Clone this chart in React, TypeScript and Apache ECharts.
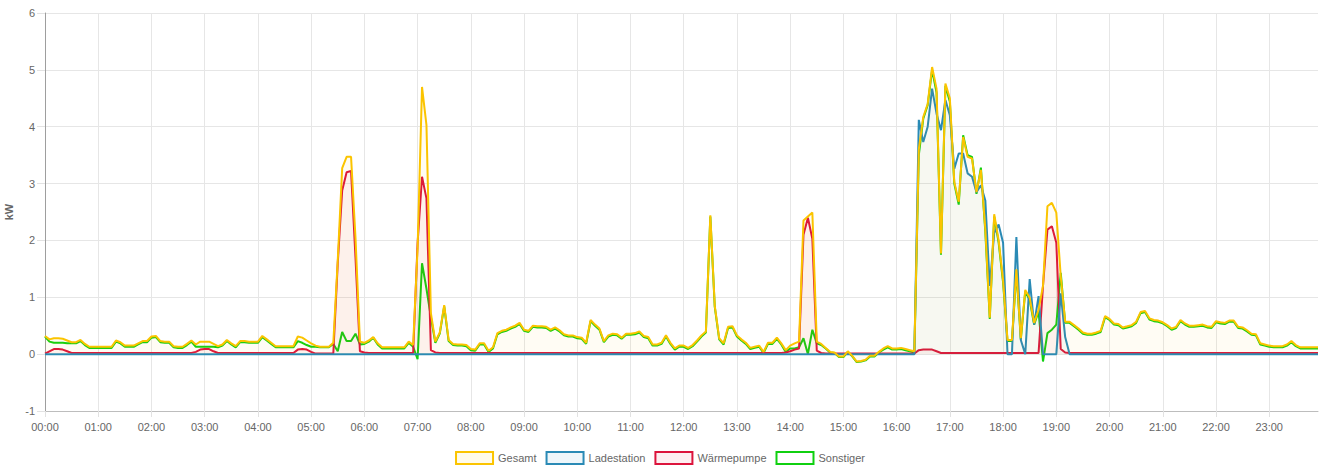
import React, { useEffect, useRef } from "react";
import * as echarts from "echarts";

const hourLabels: string[] = [];
for (let h = 0; h < 24; h++) {
  for (let m = 0; m < 60; m += 5) {
    hourLabels.push(String(h).padStart(2, "0") + ":" + String(m).padStart(2, "0"));
  }
}

const yTickMin = -1;
const yTickMax = 6;

// Gesamt (kW), 5-minute values
const gesamt: number[] = [
  0.32, 0.26, 0.28, 0.28, 0.27, 0.24, 0.21, 0.21, 0.25, 0.18, 0.13, 0.13,
  0.13, 0.13, 0.13, 0.13, 0.24, 0.21, 0.15, 0.15, 0.15, 0.19, 0.23, 0.23,
  0.31, 0.32, 0.23, 0.22, 0.22, 0.14, 0.13, 0.13, 0.18, 0.24, 0.17, 0.22,
  0.22, 0.22, 0.18, 0.14, 0.17, 0.25, 0.19, 0.14, 0.23, 0.23, 0.22, 0.22,
  0.22, 0.32, 0.26, 0.2, 0.14, 0.14, 0.14, 0.14, 0.14, 0.31, 0.29, 0.24,
  0.19, 0.15, 0.13, 0.13, 0.13, 0.2, 1.65, 3.27, 3.47, 3.47, 2.05, 0.22,
  0.2, 0.24, 0.3, 0.19, 0.12, 0.12, 0.12, 0.12, 0.12, 0.12, 0.22, 0.16,
  1.86, 4.7, 4.03, 0.72, 0.22, 0.38, 0.86, 0.25, 0.18, 0.17, 0.17, 0.16,
  0.09, 0.08, 0.19, 0.19, 0.06, 0.12, 0.37, 0.41, 0.43, 0.47, 0.5, 0.55,
  0.43, 0.41, 0.5, 0.49, 0.49, 0.48, 0.43, 0.47, 0.42, 0.35, 0.33, 0.33,
  0.3, 0.29, 0.2, 0.6, 0.52, 0.45, 0.23, 0.33, 0.36, 0.35, 0.29, 0.36,
  0.36, 0.37, 0.4, 0.32, 0.3, 0.17, 0.17, 0.2, 0.33, 0.2, 0.1, 0.15,
  0.15, 0.11, 0.16, 0.24, 0.33, 0.4, 2.44, 0.85, 0.28, 0.19, 0.48, 0.49,
  0.33, 0.26, 0.2, 0.11, 0.13, 0.15, 0.04, 0.2, 0.2, 0.29, 0.19, 0.07,
  0.15, 0.19, 0.22, 2.35, 2.42, 2.49, 0.22, 0.18, 0.11, 0.04, 0.03, -0.04,
  -0.04, 0.05, -0.03, -0.13, -0.12, -0.1, -0.03, -0.03, 0.04, 0.1, 0.14, 0.1,
  0.1, 0.11, 0.09, 0.07, 0.05, 3.6, 4.17, 4.4, 5.05, 4.67, 1.77, 4.76,
  4.5, 3.03, 2.68, 3.82, 3.47, 3.44, 2.85, 3.24, 2.2, 0.64, 2.46, 2.0,
  1.3, 0.25, 0.25, 1.49, 0.28, 1.13, 0.99, 0.55, 0.78, 1.2, 2.6, 2.66,
  2.49, 1.37, 0.57, 0.57, 0.51, 0.45, 0.38, 0.36, 0.36, 0.38, 0.41, 0.67,
  0.62, 0.54, 0.53, 0.47, 0.49, 0.51, 0.57, 0.74, 0.76, 0.63, 0.6, 0.59,
  0.56, 0.51, 0.45, 0.48, 0.6, 0.54, 0.5, 0.5, 0.51, 0.52, 0.49, 0.48,
  0.58, 0.56, 0.55, 0.59, 0.59, 0.48, 0.47, 0.42, 0.36, 0.35, 0.19, 0.17,
  0.15, 0.14, 0.14, 0.14, 0.17, 0.23, 0.16, 0.12, 0.12, 0.12, 0.12, 0.12,
];

// Ladestation (kW)
const ladestation: number[] = [
  0, 0, 0, 0, 0, 0, 0, 0, 0, 0, 0, 0,
  0, 0, 0, 0, 0, 0, 0, 0, 0, 0, 0, 0,
  0, 0, 0, 0, 0, 0, 0, 0, 0, 0, 0, 0,
  0, 0, 0, 0, 0, 0, 0, 0, 0, 0, 0, 0,
  0, 0, 0, 0, 0, 0, 0, 0, 0, 0, 0, 0,
  0, 0, 0, 0, 0, 0, 0, 0, 0, 0, 0, 0,
  0, 0, 0, 0, 0, 0, 0, 0, 0, 0, 0, 0,
  0, 0, 0, 0, 0, 0, 0, 0, 0, 0, 0, 0,
  0, 0, 0, 0, 0, 0, 0, 0, 0, 0, 0, 0,
  0, 0, 0, 0, 0, 0, 0, 0, 0, 0, 0, 0,
  0, 0, 0, 0, 0, 0, 0, 0, 0, 0, 0, 0,
  0, 0, 0, 0, 0, 0, 0, 0, 0, 0, 0, 0,
  0, 0, 0, 0, 0, 0, 0, 0, 0, 0, 0, 0,
  0, 0, 0, 0, 0, 0, 0, 0, 0, 0, 0, 0,
  0, 0, 0, 0, 0, 0, 0, 0, 0, 0, 0, 0,
  0, 0, 0, 0, 0, 0, 0, 0, 0, 0, 0, 0,
  0, 0, 0, 0, 0, 4.12, 3.73, 4.0, 4.67, 4.23, 3.94, 4.47,
  4.2, 3.26, 3.53, 3.53, 3.18, 3.12, 2.85, 2.97, 2.7, 1.2, 2.13, 2.28,
  1.96, 0, 0, 2.06, 0.25, 0, 1.32, 0.52, 1.02, 0, 0, 0,
  0, 1.07, 0.3, 0, 0, 0, 0, 0, 0, 0, 0, 0,
  0, 0, 0, 0, 0, 0, 0, 0, 0, 0, 0, 0,
  0, 0, 0, 0, 0, 0, 0, 0, 0, 0, 0, 0,
  0, 0, 0, 0, 0, 0, 0, 0, 0, 0, 0, 0,
  0, 0, 0, 0, 0, 0, 0, 0, 0, 0, 0, 0,
];

// Wärmepumpe (kW)
const waermepumpe: number[] = [
  0.01, 0.05, 0.09, 0.09, 0.08, 0.05, 0.02, 0.02, 0.02, 0.02, 0.02, 0.02,
  0.02, 0.02, 0.02, 0.02, 0.02, 0.02, 0.02, 0.02, 0.02, 0.02, 0.02, 0.02,
  0.02, 0.02, 0.02, 0.02, 0.02, 0.02, 0.02, 0.02, 0.02, 0.02, 0.04, 0.08,
  0.09, 0.09, 0.05, 0.02, 0.02, 0.02, 0.02, 0.02, 0.02, 0.02, 0.02, 0.02,
  0.02, 0.02, 0.02, 0.02, 0.02, 0.02, 0.02, 0.02, 0.02, 0.08, 0.09, 0.08,
  0.04, 0.01, 0.01, 0.01, 0.01, 0.01, 1.6, 2.88, 3.2, 3.22, 1.7, 0.05,
  0.03, 0.02, 0.02, 0.02, 0.02, 0.02, 0.02, 0.02, 0.02, 0.02, 0.02, 0.02,
  1.95, 3.12, 2.74, 0.07, 0.03, 0.02, 0.02, 0.02, 0.02, 0.02, 0.02, 0.02,
  0.02, 0.02, 0.02, 0.02, 0.02, 0.02, 0.02, 0.02, 0.02, 0.02, 0.02, 0.02,
  0.02, 0.02, 0.02, 0.02, 0.02, 0.02, 0.02, 0.02, 0.02, 0.02, 0.02, 0.02,
  0.02, 0.02, 0.02, 0.02, 0.02, 0.02, 0.02, 0.02, 0.02, 0.02, 0.02, 0.02,
  0.02, 0.02, 0.02, 0.02, 0.02, 0.02, 0.02, 0.02, 0.02, 0.02, 0.02, 0.02,
  0.02, 0.02, 0.02, 0.02, 0.02, 0.02, 0.02, 0.02, 0.02, 0.02, 0.02, 0.02,
  0.02, 0.02, 0.02, 0.02, 0.02, 0.02, 0.02, 0.02, 0.02, 0.02, 0.02, 0.03,
  0.05, 0.08, 0.1, 2.1, 2.4, 2.03, 0.06, 0.02, 0.01, 0.01, 0.01, 0.01,
  0.01, 0.01, 0.01, 0.01, 0.01, 0.01, 0.01, 0.01, 0.01, 0.01, 0.01, 0.01,
  0.01, 0.01, 0.01, 0.01, 0.01, 0.07, 0.08, 0.08, 0.08, 0.05, 0.02, 0.02,
  0.02, 0.02, 0.02, 0.02, 0.02, 0.02, 0.02, 0.02, 0.02, 0.02, 0.02, 0.02,
  0.02, 0.02, 0.02, 0.02, 0.02, 0.02, 0.02, 0.02, 0.02, 1.2, 2.19, 2.25,
  1.96, 0.09, 0.03, 0.02, 0.02, 0.02, 0.02, 0.02, 0.02, 0.02, 0.02, 0.02,
  0.02, 0.02, 0.02, 0.02, 0.02, 0.02, 0.02, 0.02, 0.02, 0.02, 0.02, 0.02,
  0.02, 0.02, 0.02, 0.02, 0.02, 0.02, 0.02, 0.02, 0.02, 0.02, 0.02, 0.02,
  0.02, 0.02, 0.02, 0.02, 0.02, 0.02, 0.02, 0.02, 0.02, 0.02, 0.02, 0.02,
  0.02, 0.02, 0.02, 0.02, 0.02, 0.02, 0.02, 0.02, 0.02, 0.02, 0.02, 0.02,
];

// Sonstiger (kW)
const sonstiger: number[] = [
  0.31, 0.22, 0.2, 0.2, 0.2, 0.19, 0.19, 0.19, 0.23, 0.16, 0.11, 0.11,
  0.11, 0.11, 0.11, 0.11, 0.22, 0.19, 0.13, 0.13, 0.13, 0.17, 0.21, 0.21,
  0.29, 0.3, 0.21, 0.2, 0.2, 0.12, 0.11, 0.11, 0.16, 0.22, 0.13, 0.13,
  0.13, 0.13, 0.13, 0.12, 0.15, 0.23, 0.17, 0.12, 0.21, 0.21, 0.2, 0.2,
  0.2, 0.3, 0.24, 0.18, 0.12, 0.12, 0.12, 0.12, 0.12, 0.23, 0.2, 0.16,
  0.13, 0.13, 0.12, 0.12, 0.12, 0.18, 0.05, 0.39, 0.23, 0.23, 0.36, 0.17,
  0.18, 0.22, 0.29, 0.17, 0.1, 0.1, 0.1, 0.1, 0.1, 0.1, 0.2, 0.13,
  -0.09, 1.6, 1.15, 0.65, 0.2, 0.36, 0.84, 0.23, 0.16, 0.15, 0.15, 0.14,
  0.07, 0.06, 0.17, 0.17, 0.04, 0.1, 0.35, 0.39, 0.41, 0.45, 0.48, 0.53,
  0.41, 0.39, 0.48, 0.47, 0.47, 0.46, 0.41, 0.45, 0.4, 0.33, 0.31, 0.31,
  0.28, 0.27, 0.18, 0.58, 0.5, 0.43, 0.21, 0.31, 0.34, 0.33, 0.27, 0.34,
  0.34, 0.35, 0.38, 0.3, 0.28, 0.15, 0.15, 0.18, 0.31, 0.18, 0.08, 0.13,
  0.13, 0.09, 0.14, 0.22, 0.31, 0.38, 2.42, 0.83, 0.26, 0.17, 0.46, 0.47,
  0.31, 0.24, 0.18, 0.09, 0.11, 0.13, 0.02, 0.18, 0.18, 0.27, 0.17, 0.04,
  0.1, 0.1, 0.12, 0.28, 0.0, 0.43, 0.19, 0.16, 0.1, 0.03, 0.02, -0.05,
  -0.05, 0.04, -0.04, -0.14, -0.13, -0.11, -0.04, -0.04, 0.03, 0.08, 0.12, 0.08,
  0.08, 0.09, 0.07, 0.05, 0.03, 3.5, 4.14, 4.38, 5.0, 4.6, 1.75, 4.72,
  4.44, 3.0, 2.63, 3.85, 3.5, 3.47, 2.82, 3.28, 2.15, 0.62, 2.42, 1.96,
  1.26, 0.23, 0.23, 1.45, 0.26, 1.1, 0.95, 0.52, 0.75, -0.13, 0.37, 0.43,
  0.52, 1.43, 0.55, 0.55, 0.49, 0.43, 0.36, 0.34, 0.34, 0.36, 0.39, 0.65,
  0.6, 0.52, 0.51, 0.45, 0.47, 0.49, 0.55, 0.72, 0.74, 0.61, 0.58, 0.57,
  0.54, 0.49, 0.43, 0.46, 0.58, 0.52, 0.48, 0.48, 0.49, 0.5, 0.47, 0.46,
  0.56, 0.54, 0.53, 0.57, 0.57, 0.46, 0.45, 0.4, 0.34, 0.33, 0.17, 0.15,
  0.13, 0.12, 0.12, 0.12, 0.15, 0.21, 0.14, 0.1, 0.1, 0.1, 0.1, 0.1,
];

const seriesNames = ["Gesamt", "Ladestation", "Wärmepumpe", "Sonstiger"];
const lineColors = ["#fbc400", "#2a8ab5", "#dc143c", "#10d010"];
const areaColors = [
  "rgba(255, 196, 0, 0.06)",
  "rgba(42, 138, 181, 0.05)",
  "rgba(220, 20, 60, 0.07)",
  "rgba(16, 208, 16, 0.0)",
];
const legendFills = ["#fffbea", "#eef6fa", "#fdeff1", "#ffffff"];

const FONT = "'Liberation Sans', Arial, Helvetica, sans-serif";

export default function App() {
  const ref = useRef<HTMLDivElement>(null);

  useEffect(() => {
    if (!ref.current) return;
    const chart = echarts.init(ref.current, undefined, { renderer: "svg" });
    const datasets = [gesamt, ladestation, waermepumpe, sonstiger];
    const zs = [5, 4, 3, 2];
    chart.setOption({
      animation: false,
      textStyle: { fontFamily: FONT },
      grid: {
        left: 45,
        right: 2,
        top: 13,
        bottom: 56,
        containLabel: false,
        outerBoundsMode: "none",
      },
      legend: {
        top: 446,
        left: "center",
        icon: "rect",
        itemWidth: 37,
        itemHeight: 12,
        itemGap: 9,
        textStyle: { color: "#666", fontSize: 11, fontFamily: FONT },
        selectedMode: false,
        data: seriesNames.map((n, i) => ({
          name: n,
          itemStyle: {
            color: legendFills[i],
            borderColor: lineColors[i],
            borderWidth: 2,
          },
        })),
      },
      xAxis: {
        type: "category",
        boundaryGap: false,
        data: hourLabels,
        axisLine: { onZero: false, lineStyle: { color: "#bdbdbd", width: 1 } },
        axisTick: {
          show: true,
          interval: 11,
          length: 6,
          lineStyle: { color: "#e2e2e2" },
        },
        axisLabel: {
          interval: 11,
          color: "#666",
          fontSize: 11,
          margin: 10,
          fontFamily: FONT,
        },
        splitLine: {
          show: true,
          interval: 11,
          lineStyle: { color: "#e6e6e6", width: 1 },
        },
      },
      yAxis: {
        type: "value",
        min: yTickMin,
        max: yTickMax,
        interval: 1,
        name: "kW",
        nameLocation: "middle",
        nameGap: 29,
        nameRotate: 90,
        nameTextStyle: {
          color: "#666",
          fontSize: 11,
          fontWeight: "bold",
          fontFamily: FONT,
        },
        axisLine: { show: true, lineStyle: { color: "#9e9e9e", width: 1 } },
        axisTick: { show: true, length: 8, lineStyle: { color: "#e2e2e2" } },
        axisLabel: { color: "#666", fontSize: 11, margin: 10, fontFamily: FONT },
        splitLine: { show: true, lineStyle: { color: "#e6e6e6", width: 1 } },
      },
      series: datasets.map((d, i) => ({
        name: seriesNames[i],
        type: "line",
        data: d,
        symbol: "none",
        showSymbol: false,
        silent: true,
        z: zs[i],
        lineStyle: { width: 2, color: lineColors[i] },
        itemStyle: { color: lineColors[i] },
        areaStyle: { color: areaColors[i] },
        emphasis: { disabled: true },
      })),
    });
    return () => chart.dispose();
  }, []);

  return (
    <div
      ref={ref}
      style={{
        position: "fixed",
        left: 0,
        top: 0,
        width: 1320,
        height: 467,
        background: "#fff",
      }}
    />
  );
}
